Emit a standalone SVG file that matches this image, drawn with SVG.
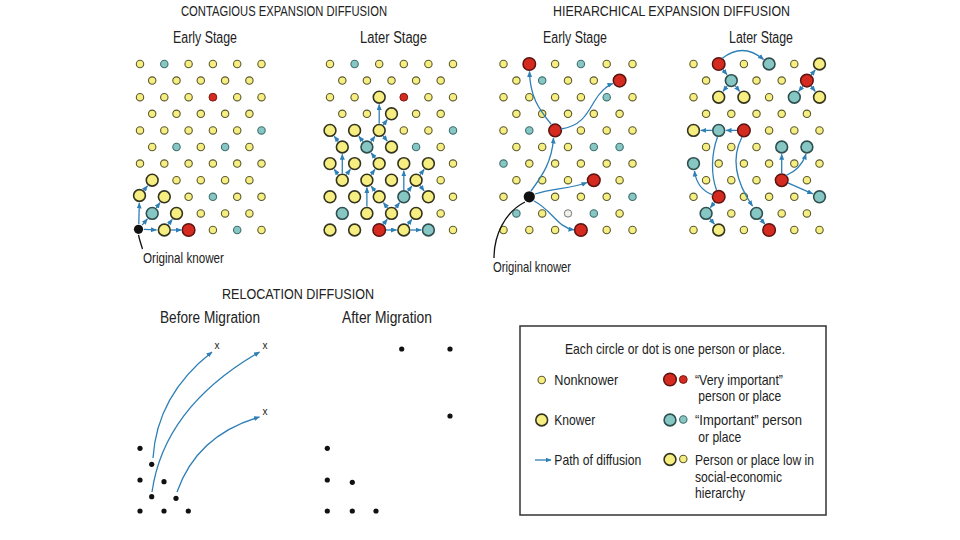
<svg xmlns="http://www.w3.org/2000/svg" xmlns:xlink="http://www.w3.org/1999/xlink" width="960" height="540" viewBox="0 0 960 540">
<style>
text{font-family:"Liberation Sans",Arial,sans-serif;fill:#222}
.ti{font-size:15.5px}
.st{font-size:16px}
.lg{font-size:14.5px}
.ar{fill:none;stroke:#2e7fb5;stroke-width:1.3;marker-end:url(#ah)}
.ln{fill:none;stroke:#2e7fb5;stroke-width:1.3}
.kl{fill:none;stroke:#111;stroke-width:1.3}
.dot{fill:#111}
</style>
<defs>
<marker id="ah" markerUnits="userSpaceOnUse" markerWidth="6" markerHeight="5" refX="5.5" refY="2.5" orient="auto"><path d="M0,0 L6,2.5 L0,5 z" fill="#2e7fb5"/></marker>
<circle id="sy" r="3.7" fill="#f6ee80" stroke="#5a5930" stroke-width="1.1"/>
<circle id="Ly" r="5.9" fill="#f6ee80" stroke="#33331f" stroke-width="1.6"/>
<circle id="st" r="3.7" fill="#86c7c4" stroke="#3f6f6e" stroke-width="1.1"/>
<circle id="Lt" r="5.9" fill="#86c7c4" stroke="#2f4f4f" stroke-width="1.6"/>
<circle id="sr" r="3.9" fill="#d42a1f" stroke="#7a1a12" stroke-width="1"/>
<circle id="Lr" r="6.3" fill="#d42a1f" stroke="#5a1510" stroke-width="1.5"/>
<circle id="bk" r="4.6" fill="#111"/>
<circle id="bk2" r="5.6" fill="#111"/>
<circle id="sw" r="3.7" fill="#eef2ea" stroke="#777" stroke-width="1"/>
</defs>
<rect width="960" height="540" fill="#fff"/>

<g id="titles">
<text class="ti" x="181" y="15.5" textLength="206" lengthAdjust="spacingAndGlyphs">CONTAGIOUS EXPANSION DIFFUSION</text>
<text class="ti" x="553" y="15.5" textLength="237" lengthAdjust="spacingAndGlyphs">HIERARCHICAL EXPANSION DIFFUSION</text>
<text class="st" x="173" y="43" textLength="64" lengthAdjust="spacingAndGlyphs">Early Stage</text>
<text class="st" x="360" y="43" textLength="67" lengthAdjust="spacingAndGlyphs">Later Stage</text>
<text class="st" x="543" y="43" textLength="64" lengthAdjust="spacingAndGlyphs">Early Stage</text>
<text class="st" x="729" y="43" textLength="64" lengthAdjust="spacingAndGlyphs">Later Stage</text>
<text class="ti" x="222" y="299" textLength="152" lengthAdjust="spacingAndGlyphs">RELOCATION DIFFUSION</text>
<text class="st" x="160" y="323" textLength="100" lengthAdjust="spacingAndGlyphs">Before Migration</text>
<text class="st" x="342" y="323" textLength="90" lengthAdjust="spacingAndGlyphs">After Migration</text>
</g>

<g id="contagious-early">
<use href="#sy" x="140" y="64"/><use href="#st" x="164.3" y="64"/><use href="#sy" x="188.6" y="64"/><use href="#sy" x="212.9" y="64"/><use href="#sy" x="237.2" y="64"/><use href="#sy" x="261.5" y="64"/>
<use href="#sy" x="152.2" y="80.6"/><use href="#sy" x="176.5" y="80.6"/><use href="#sy" x="200.8" y="80.6"/><use href="#sy" x="225.1" y="80.6"/><use href="#sy" x="249.4" y="80.6"/>
<use href="#sy" x="140" y="97.2"/><use href="#sy" x="164.3" y="97.2"/><use href="#sy" x="188.6" y="97.2"/><use href="#sr" x="212.9" y="97.2"/><use href="#sy" x="237.2" y="97.2"/><use href="#sy" x="261.5" y="97.2"/>
<use href="#sy" x="152.2" y="113.8"/><use href="#sy" x="176.5" y="113.8"/><use href="#sy" x="200.8" y="113.8"/><use href="#sy" x="225.1" y="113.8"/><use href="#sy" x="249.4" y="113.8"/>
<use href="#sy" x="140" y="130.4"/><use href="#sy" x="164.3" y="130.4"/><use href="#sy" x="188.6" y="130.4"/><use href="#sy" x="212.9" y="130.4"/><use href="#sy" x="237.2" y="130.4"/><use href="#st" x="261.5" y="130.4"/>
<use href="#sy" x="152.2" y="147"/><use href="#st" x="176.5" y="147"/><use href="#sy" x="200.8" y="147"/><use href="#st" x="225.1" y="147"/><use href="#sy" x="249.4" y="147"/>
<use href="#sy" x="140" y="163.6"/><use href="#sy" x="164.3" y="163.6"/><use href="#sy" x="188.6" y="163.6"/><use href="#sy" x="212.9" y="163.6"/><use href="#sy" x="237.2" y="163.6"/><use href="#sy" x="261.5" y="163.6"/>
<use href="#Ly" x="152.2" y="180.2"/><use href="#sy" x="176.5" y="180.2"/><use href="#sy" x="200.8" y="180.2"/><use href="#sy" x="225.1" y="180.2"/><use href="#sy" x="249.4" y="180.2"/>
<use href="#Ly" x="139.5" y="195.5"/><use href="#Ly" x="164.3" y="196.8"/><use href="#sy" x="188.6" y="196.8"/><use href="#st" x="212.9" y="196.8"/><use href="#sy" x="237.2" y="196.8"/><use href="#sy" x="261.5" y="196.8"/>
<use href="#Lt" x="152.2" y="213.4"/><use href="#Ly" x="176.5" y="213.4"/><use href="#sy" x="200.8" y="213.4"/><use href="#sy" x="225.1" y="213.4"/><use href="#sy" x="249.4" y="213.4"/>
<use href="#bk" x="138.5" y="229.3"/><use href="#Ly" x="164.3" y="230"/><use href="#Lr" x="188.6" y="230"/><use href="#sy" x="212.9" y="230"/><use href="#st" x="237.2" y="230"/><use href="#sy" x="261.5" y="230"/>
<path class="kl" d="M138.5,235 C139.5,240 141,244 142.5,249"/>
<text class="lg" x="143" y="263" textLength="81" lengthAdjust="spacingAndGlyphs">Original knower</text>
</g>

<g id="contagious-later">
<use href="#sy" x="330" y="64"/><use href="#st" x="354.6" y="64"/><use href="#sy" x="379.2" y="64"/><use href="#sy" x="403.8" y="64"/><use href="#sy" x="428.4" y="64"/><use href="#sy" x="453" y="64"/>
<use href="#sy" x="342.3" y="80.6"/><use href="#sy" x="366.9" y="80.6"/><use href="#sy" x="391.5" y="80.6"/><use href="#sy" x="416.1" y="80.6"/><use href="#sy" x="440.7" y="80.6"/>
<use href="#sy" x="330" y="97.2"/><use href="#sy" x="354.6" y="97.2"/><use href="#Ly" x="379.2" y="97.2"/><use href="#sr" x="403.8" y="97.2"/><use href="#sy" x="428.4" y="97.2"/><use href="#sy" x="453" y="97.2"/>
<use href="#sy" x="342.3" y="113.8"/><use href="#sy" x="366.9" y="113.8"/><use href="#Ly" x="391.5" y="113.8"/><use href="#sy" x="416.1" y="113.8"/><use href="#sy" x="440.7" y="113.8"/>
<use href="#Ly" x="330" y="130.4"/><use href="#Ly" x="354.6" y="130.4"/><use href="#Ly" x="379.2" y="130.4"/><use href="#sy" x="403.8" y="130.4"/><use href="#sy" x="428.4" y="130.4"/><use href="#st" x="453" y="130.4"/>
<use href="#Ly" x="342.3" y="147"/><use href="#Lt" x="366.9" y="147"/><use href="#Ly" x="391.5" y="147"/><use href="#st" x="416.1" y="147"/><use href="#sy" x="440.7" y="147"/>
<use href="#Ly" x="330" y="163.6"/><use href="#Ly" x="354.6" y="163.6"/><use href="#Ly" x="379.2" y="163.6"/><use href="#Ly" x="403.8" y="163.6"/><use href="#Ly" x="428.4" y="163.6"/><use href="#sy" x="453" y="163.6"/>
<use href="#Ly" x="342.3" y="180.2"/><use href="#Ly" x="366.9" y="180.2"/><use href="#Ly" x="391.5" y="180.2"/><use href="#Ly" x="416.1" y="180.2"/><use href="#sy" x="440.7" y="180.2"/>
<use href="#Ly" x="330" y="196.8"/><use href="#Ly" x="354.6" y="196.8"/><use href="#Ly" x="379.2" y="196.8"/><use href="#Lt" x="403.8" y="196.8"/><use href="#Ly" x="428.4" y="196.8"/><use href="#sy" x="453" y="196.8"/>
<use href="#Lt" x="342.3" y="213.4"/><use href="#Ly" x="366.9" y="213.4"/><use href="#Ly" x="391.5" y="213.4"/><use href="#Ly" x="416.1" y="213.4"/><use href="#sy" x="440.7" y="213.4"/>
<use href="#Ly" x="330" y="230"/><use href="#Ly" x="354.6" y="230"/><use href="#Lr" x="379.2" y="230"/><use href="#Ly" x="403.8" y="230"/><use href="#Lt" x="428.4" y="230"/><use href="#sy" x="453" y="230"/>
</g>

<g id="hierarchical-early">
<use href="#sy" x="503.5" y="64"/><use href="#Lr" x="529.3" y="64"/><use href="#sy" x="555.1" y="64"/><use href="#st" x="580.9" y="64"/><use href="#sy" x="606.7" y="64"/><use href="#sy" x="632.5" y="64"/>
<use href="#sy" x="516.4" y="80.6"/><use href="#st" x="542.2" y="80.6"/><use href="#sy" x="568" y="80.6"/><use href="#sy" x="593.8" y="80.6"/><use href="#Lr" x="619.6" y="80.6"/>
<use href="#sy" x="503.5" y="97.2"/><use href="#sy" x="529.3" y="97.2"/><use href="#sy" x="555.1" y="97.2"/><use href="#sy" x="580.9" y="97.2"/><use href="#st" x="606.7" y="97.2"/><use href="#sy" x="632.5" y="97.2"/>
<use href="#sy" x="516.4" y="113.8"/><use href="#sy" x="542.2" y="113.8"/><use href="#sy" x="568" y="113.8"/><use href="#sy" x="593.8" y="113.8"/><use href="#sy" x="619.6" y="113.8"/>
<use href="#sy" x="503.5" y="130.4"/><use href="#st" x="529.3" y="130.4"/><use href="#Lr" x="555.1" y="130.4"/><use href="#sy" x="580.9" y="130.4"/><use href="#sy" x="606.7" y="130.4"/><use href="#sy" x="632.5" y="130.4"/>
<use href="#sy" x="516.4" y="147"/><use href="#sy" x="542.2" y="147"/><use href="#sy" x="568" y="147"/><use href="#st" x="593.8" y="147"/><use href="#st" x="619.6" y="147"/>
<use href="#st" x="503.5" y="163.6"/><use href="#sy" x="529.3" y="163.6"/><use href="#sy" x="555.1" y="163.6"/><use href="#sy" x="580.9" y="163.6"/><use href="#sy" x="606.7" y="163.6"/><use href="#sy" x="632.5" y="163.6"/>
<use href="#sy" x="516.4" y="180.2"/><use href="#sy" x="542.2" y="180.2"/><use href="#sy" x="568" y="180.2"/><use href="#Lr" x="593.8" y="180.2"/><use href="#sy" x="619.6" y="180.2"/>
<use href="#sy" x="503.5" y="196.8"/><use href="#bk2" x="529.3" y="196.8"/><use href="#sy" x="555.1" y="196.8"/><use href="#sy" x="580.9" y="196.8"/><use href="#sy" x="606.7" y="196.8"/><use href="#st" x="632.5" y="196.8"/>
<use href="#st" x="516.4" y="213.4"/><use href="#sy" x="542.2" y="213.4"/><use href="#sw" x="568" y="213.4"/><use href="#st" x="593.8" y="213.4"/><use href="#sy" x="619.6" y="213.4"/>
<use href="#sy" x="503.5" y="230"/><use href="#sy" x="529.3" y="230"/><use href="#sy" x="555.1" y="230"/><use href="#Lr" x="580.9" y="230"/><use href="#sy" x="606.7" y="230"/><use href="#sy" x="632.5" y="230"/>
<path class="kl" d="M525,202 C505,212 494,235 494,258"/>
<text class="lg" x="493" y="272" textLength="78" lengthAdjust="spacingAndGlyphs">Original knower</text>
</g>

<g id="hierarchical-later">
<use href="#sy" x="693.5" y="64"/><use href="#Lr" x="718.7" y="64"/><use href="#sy" x="743.9" y="64"/><use href="#Lt" x="769.1" y="64"/><use href="#sy" x="794.3" y="64"/><use href="#Ly" x="819.5" y="64"/>
<use href="#sy" x="706.1" y="80.6"/><use href="#Lt" x="731.3" y="80.6"/><use href="#sy" x="756.5" y="80.6"/><use href="#sy" x="781.7" y="80.6"/><use href="#Lr" x="806.9" y="80.6"/>
<use href="#sy" x="693.5" y="97.2"/><use href="#Ly" x="718.7" y="97.2"/><use href="#Ly" x="743.9" y="97.2"/><use href="#sy" x="769.1" y="97.2"/><use href="#Lt" x="794.3" y="97.2"/><use href="#Ly" x="819.5" y="97.2"/>
<use href="#sy" x="706.1" y="113.8"/><use href="#sy" x="731.3" y="113.8"/><use href="#sy" x="756.5" y="113.8"/><use href="#sy" x="781.7" y="113.8"/><use href="#sy" x="806.9" y="113.8"/>
<use href="#Ly" x="693.5" y="130.4"/><use href="#Lt" x="718.7" y="130.4"/><use href="#Lr" x="743.9" y="130.4"/><use href="#sy" x="769.1" y="130.4"/><use href="#sy" x="794.3" y="130.4"/><use href="#sy" x="819.5" y="130.4"/>
<use href="#sy" x="706.1" y="147"/><use href="#sy" x="731.3" y="147"/><use href="#sy" x="756.5" y="147"/><use href="#Lt" x="781.7" y="147"/><use href="#Lt" x="806.9" y="147"/>
<use href="#Lt" x="693.5" y="163.6"/><use href="#sy" x="718.7" y="163.6"/><use href="#sy" x="743.9" y="163.6"/><use href="#sy" x="769.1" y="163.6"/><use href="#sy" x="794.3" y="163.6"/><use href="#sy" x="819.5" y="163.6"/>
<use href="#sy" x="706.1" y="180.2"/><use href="#sy" x="731.3" y="180.2"/><use href="#sy" x="756.5" y="180.2"/><use href="#Lr" x="781.7" y="180.2"/><use href="#sy" x="806.9" y="180.2"/>
<use href="#sy" x="693.5" y="196.8"/><use href="#Lr" x="718.7" y="196.8"/><use href="#sy" x="743.9" y="196.8"/><use href="#sy" x="769.1" y="196.8"/><use href="#sy" x="794.3" y="196.8"/><use href="#Lt" x="819.5" y="196.8"/>
<use href="#Lt" x="706.1" y="213.4"/><use href="#sy" x="731.3" y="213.4"/><use href="#Lt" x="756.5" y="213.4"/><use href="#sy" x="781.7" y="213.4"/><use href="#sy" x="806.9" y="213.4"/>
<use href="#sy" x="693.5" y="230"/><use href="#Ly" x="718.7" y="230"/><use href="#sy" x="743.9" y="230"/><use href="#Lr" x="769.1" y="230"/><use href="#sy" x="794.3" y="230"/><use href="#sy" x="819.5" y="230"/>
</g>

<g id="relocation">
<circle class="dot" cx="140" cy="448.3" r="2.6"/><circle class="dot" cx="151.7" cy="464.3" r="2.6"/><circle class="dot" cx="140" cy="480" r="2.6"/><circle class="dot" cx="164" cy="481.7" r="2.6"/><circle class="dot" cx="151.7" cy="496.7" r="2.6"/><circle class="dot" cx="176" cy="498.3" r="2.6"/><circle class="dot" cx="140" cy="511" r="2.6"/><circle class="dot" cx="164" cy="511" r="2.6"/><circle class="dot" cx="188.3" cy="511" r="2.6"/>
<text x="217" y="348.5" font-size="10" text-anchor="middle">x</text>
<text x="265" y="348.5" font-size="10" text-anchor="middle">x</text>
<text x="265" y="415" font-size="10" text-anchor="middle">x</text>
<circle class="dot" cx="401.7" cy="349" r="2.6"/><circle class="dot" cx="450" cy="349" r="2.6"/><circle class="dot" cx="450" cy="416" r="2.6"/><circle class="dot" cx="327.3" cy="448.3" r="2.6"/><circle class="dot" cx="327.3" cy="480" r="2.6"/><circle class="dot" cx="352.3" cy="482.3" r="2.6"/><circle class="dot" cx="327.3" cy="511" r="2.6"/><circle class="dot" cx="352.3" cy="511" r="2.6"/><circle class="dot" cx="376" cy="511" r="2.6"/>
</g>

<g id="legend">
<rect x="520" y="326" width="306" height="189" fill="#fff" stroke="#333" stroke-width="1.5"/>
<text class="lg" x="565" y="354" textLength="220" lengthAdjust="spacingAndGlyphs">Each circle or dot is one person or place.</text>
<use href="#sy" x="541.7" y="380"/>
<text class="lg" x="554.3" y="385" textLength="64" lengthAdjust="spacingAndGlyphs">Nonknower</text>
<use href="#Ly" x="541.7" y="420"/>
<text class="lg" x="554.3" y="425" textLength="41" lengthAdjust="spacingAndGlyphs">Knower</text>
<text class="lg" x="554.3" y="464.5" textLength="87" lengthAdjust="spacingAndGlyphs">Path of diffusion</text>
<use href="#Lr" x="670" y="379.5"/><use href="#sr" x="683.3" y="379.5"/>
<text class="lg" x="695" y="385" textLength="88" lengthAdjust="spacingAndGlyphs">“Very important”</text>
<text class="lg" x="698.3" y="401" textLength="83" lengthAdjust="spacingAndGlyphs">person or place</text>
<use href="#Lt" x="670" y="420"/><use href="#st" x="683.3" y="419.5"/>
<text class="lg" x="695" y="425" textLength="107" lengthAdjust="spacingAndGlyphs">“Important” person</text>
<text class="lg" x="698.3" y="441.5" textLength="43" lengthAdjust="spacingAndGlyphs">or place</text>
<use href="#Ly" x="670" y="459.5"/><use href="#sy" x="683.3" y="459"/>
<text class="lg" x="695" y="464.5" textLength="119" lengthAdjust="spacingAndGlyphs">Person or place low in</text>
<text class="lg" x="695" y="481.5" textLength="87" lengthAdjust="spacingAndGlyphs">social-economic</text>
<text class="lg" x="695" y="498.3" textLength="50" lengthAdjust="spacingAndGlyphs">hierarchy</text>
</g>

<g id="connectors">
<path class="ar" d="M138.8,224 L139.3,203"/>
<path class="ar" d="M144,229.4 L156.5,229.9"/>
<path class="ar" d="M142.1,225.1 L147.4,218.9"/>
<path class="ar" d="M156.2,207.9 L160,202.7"/>
<path class="ar" d="M143.8,190.3 L147.5,185.8"/>
<path class="ar" d="M171.1,230 L181.3,230"/>
<path class="ar" d="M168.3,224.5 L172.2,219.3"/>
<path class="ar" d="M386,230 L396.5,230"/>
<path class="ar" d="M410.6,230 L421.1,230"/>
<path class="ar" d="M383.2,224.5 L387.2,219.3"/>
<path class="ar" d="M407.9,224.5 L411.8,219.3"/>
<path class="ar" d="M395.5,208 L399.5,202.7"/>
<path class="ar" d="M403.8,190 L403.8,170.9"/>
<path class="ar" d="M407.8,191.3 L411.8,186.1"/>
<path class="ar" d="M420.2,174.7 L424.1,169.5"/>
<path class="ar" d="M420.2,185.7 L424.1,190.9"/>
<path class="ar" d="M387.5,208 L383.5,202.7"/>
<path class="ar" d="M375.2,191.3 L371.2,186.1"/>
<path class="ar" d="M366.9,206.6 L366.9,187.5"/>
<path class="ar" d="M371,174.7 L374.9,169.5"/>
<path class="ar" d="M338.3,174.7 L334.3,169.5"/>
<path class="ar" d="M346.4,174.7 L350.3,169.5"/>
<path class="ar" d="M342.3,173.4 L342.3,154.3"/>
<path class="ar" d="M338.3,141.5 L334.3,136.3"/>
<path class="ar" d="M362.9,141.5 L358.9,136.3"/>
<path class="ar" d="M371,141.5 L374.9,136.3"/>
<path class="ar" d="M375.2,158.1 L371.2,152.9"/>
<path class="ar" d="M379.2,123.6 L379.2,104.5"/>
<path class="ar" d="M383.3,124.9 L387.2,119.7"/>
<path class="ar" d="M383.3,135.9 L387.2,141.1"/>
<path class="ar" d="M531,191 C542,176 552,162 553.5,138"/>
<path class="ar" d="M551,124 C538,108 530,96 529.5,71.5"/>
<path class="ar" d="M561,129 C582,126 588,112 594,102 C600,92 606,86 613,83.5"/>
<path class="ar" d="M535,194 C555,188 570,189 587,182.5"/>
<path class="ar" d="M534,201 C552,210 558,228 574,229.8"/>
<path class="ar" d="M722,58.5 Q743,42 763.5,59.5"/>
<path class="ar" d="M722.8,69.5 L727,74.7"/>
<path class="ar" d="M727.2,86.1 L723,91.3"/>
<path class="ar" d="M735.4,86.1 L739.6,91.3"/>
<path class="ar" d="M811,75.1 L815.2,69.9"/>
<path class="ar" d="M802.9,86.1 L798.6,91.3"/>
<path class="ar" d="M811,86.1 L815.2,91.3"/>
<path class="ar" d="M737.1,130.4 L726,130.4"/>
<path class="ar" d="M711.9,130.4 L700.8,130.4"/>
<path class="ar" d="M742,137 C730,160 738,185 752.5,206"/>
<path class="ln" d="M717.5,137 C711,155 711,175 716.5,190"/>
<path class="ar" d="M713,195 C702,191 696,183 694.5,171"/>
<path class="ar" d="M714.7,202.3 L710.4,207.5"/>
<path class="ar" d="M710.1,218.9 L714.4,224.1"/>
<path class="ar" d="M760.5,218.9 L764.8,224.1"/>
<path class="ar" d="M781.7,173.4 L781.7,154.3"/>
<path class="ar" d="M786,175.5 C797,171 803,163 806,154"/>
<path class="ar" d="M787.9,182.9 L812.8,193.9"/>
<path class="ar" d="M153,458 Q157,395 212,352"/>
<path class="ar" d="M152,492 Q164,407 259.5,352"/>
<path class="ar" d="M177,492 Q197,435 259.5,417"/>
<path class="ar" d="M535,460 L551,460"/>
</g>
</svg>
